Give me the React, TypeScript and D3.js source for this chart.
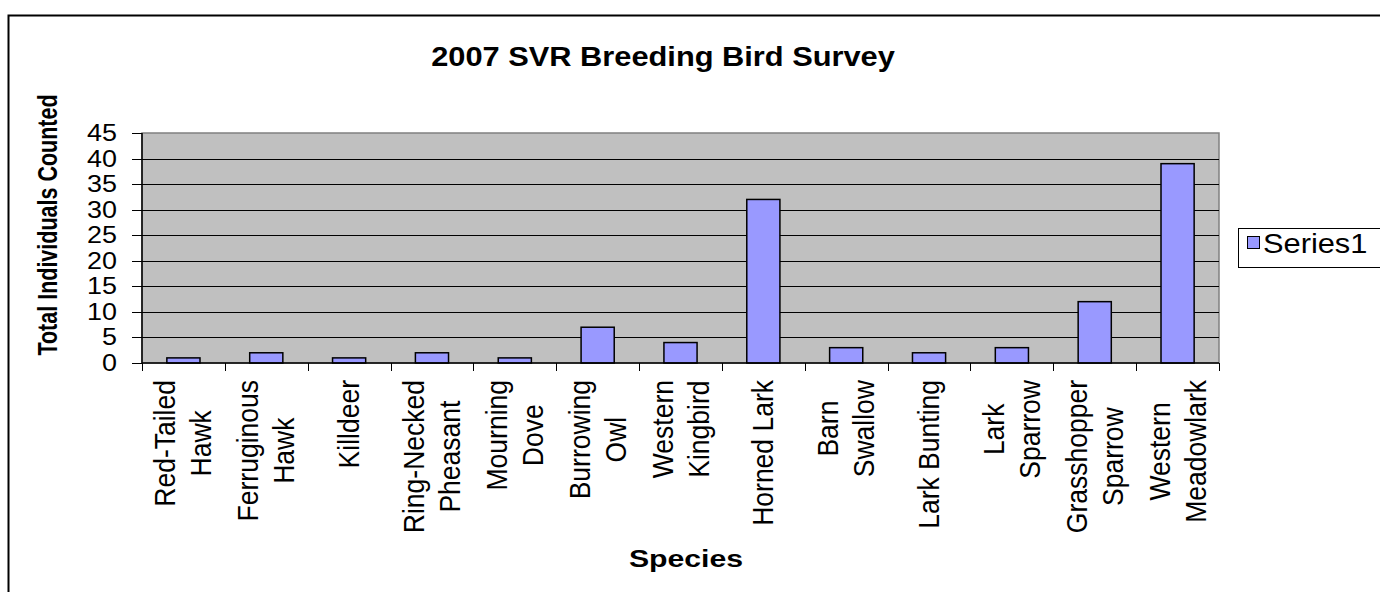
import { useEffect, useRef } from 'react';
import * as d3 from 'd3';

const chartTitle = '2007 SVR Breeding Bird Survey';
const xTitle = 'Species';
const yTitle = 'Total Individuals Counted';
const seriesName = 'Series1';

const categories = [
  'Red-Tailed Hawk',
  'Ferruginous Hawk',
  'Killdeer',
  'Ring-Necked Pheasant',
  'Mourning Dove',
  'Burrowing Owl',
  'Western Kingbird',
  'Horned Lark',
  'Barn Swallow',
  'Lark Bunting',
  'Lark Sparrow',
  'Grasshopper Sparrow',
  'Western Meadowlark',
];

// how the category labels wrap in the picture
const categoryLines = [
  ['Red-Tailed', 'Hawk'],
  ['Ferruginous', 'Hawk'],
  ['Killdeer'],
  ['Ring-Necked', 'Pheasant'],
  ['Mourning', 'Dove'],
  ['Burrowing', 'Owl'],
  ['Western', 'Kingbird'],
  ['Horned Lark'],
  ['Barn', 'Swallow'],
  ['Lark Bunting'],
  ['Lark', 'Sparrow'],
  ['Grasshopper', 'Sparrow'],
  ['Western', 'Meadowlark'],
];

const counts = [1, 2, 1, 2, 1, 7, 4, 32, 3, 2, 3, 12, 39];
const yTicks = [0, 5, 10, 15, 20, 25, 30, 35, 40, 45];

const FONT = '"Liberation Sans", Arial, sans-serif';

export default function App() {
  const svgRef = useRef<SVGSVGElement>(null);

  useEffect(() => {
    if (!svgRef.current) return;
    const svg = d3.select(svgRef.current);
    svg.selectAll('*').remove();

    const W = 1380;
    const H = 592;
    const plot = { left: 142, right: 1219, top: 133, bottom: 363 };

    // outer chart border (runs off the right and bottom edge)
    svg.append('rect')
      .attr('x', 8.5).attr('y', 15.5)
      .attr('width', W + 20).attr('height', H + 20)
      .attr('fill', '#fff')
      .attr('stroke', '#000')
      .attr('stroke-width', 2);

    const x = d3.scaleBand<string>()
      .domain(categories)
      .range([plot.left, plot.right])
      .paddingInner(0.6)
      .paddingOuter(0.3);
    const y = d3.scaleLinear().domain([0, 45]).range([plot.bottom, plot.top]);

    // plot area
    svg.append('rect')
      .attr('x', plot.left).attr('y', plot.top)
      .attr('width', plot.right - plot.left).attr('height', plot.bottom - plot.top)
      .attr('fill', '#c0c0c0')
      .attr('stroke', '#808080')
      .attr('stroke-width', 1.5);

    // grid lines
    svg.selectAll('.grid')
      .data(yTicks.filter((d) => d > 0 && d < 45))
      .enter()
      .append('line')
      .attr('x1', plot.left).attr('x2', plot.right)
      .attr('y1', (d) => Math.round(y(d)) + 0.5)
      .attr('y2', (d) => Math.round(y(d)) + 0.5)
      .attr('stroke', '#000')
      .attr('stroke-width', 1);

    // bars
    svg.selectAll('.bar')
      .data(counts)
      .enter()
      .append('rect')
      .attr('x', (d, i) => x(categories[i])!)
      .attr('y', (d) => y(d))
      .attr('width', x.bandwidth())
      .attr('height', (d) => y(0) - y(d))
      .attr('fill', '#9999ff')
      .attr('stroke', '#000')
      .attr('stroke-width', 1.5);

    // y axis
    svg.append('line')
      .attr('x1', plot.left).attr('x2', plot.left)
      .attr('y1', plot.top).attr('y2', plot.bottom)
      .attr('stroke', '#000').attr('stroke-width', 1.5);
    svg.selectAll('.ytick')
      .data(yTicks)
      .enter()
      .append('line')
      .attr('x1', plot.left - 10).attr('x2', plot.left)
      .attr('y1', (d) => Math.round(y(d)) + 0.5)
      .attr('y2', (d) => Math.round(y(d)) + 0.5)
      .attr('stroke', '#000');
    svg.selectAll('.ylab')
      .data(yTicks)
      .enter()
      .append('text')
      .attr('transform', (d) => `translate(117,${y(d) + 8}) scale(1.17,1)`)
      .attr('text-anchor', 'end')
      .attr('font-family', FONT)
      .attr('font-size', 23)
      .text((d) => d);

    // x axis
    svg.append('line')
      .attr('x1', plot.left).attr('x2', plot.right)
      .attr('y1', plot.bottom).attr('y2', plot.bottom)
      .attr('stroke', '#000').attr('stroke-width', 1.5);
    const step = x.step();
    const bounds = d3.range(categories.length + 1).map((i) => plot.left + i * step);
    svg.selectAll('.xtick')
      .data(bounds)
      .enter()
      .append('line')
      .attr('x1', (d) => Math.round(d) + 0.5).attr('x2', (d) => Math.round(d) + 0.5)
      .attr('y1', plot.bottom).attr('y2', plot.bottom + 8)
      .attr('stroke', '#000');

    // category labels, rotated, lines centred on each other
    const labelTop = 380;
    const lineGap = 18;
    categoryLines.forEach((lines, i) => {
      const cx = x(categories[i])! + x.bandwidth() / 2;
      const nodes = lines.map((line, j) => {
        const lx = cx + (lines.length === 1 ? 0 : (j === 0 ? -lineGap : lineGap));
        return svg.append('text')
          .attr('text-anchor', 'middle')
          .attr('dy', '0.35em')
          .attr('font-family', FONT)
          .attr('font-size', 26.5)
          .attr('data-x', lx)
          .text(line);
      });
      const maxLen = d3.max(nodes, (n) => (n.node() as SVGTextElement).getComputedTextLength()) || 0;
      nodes.forEach((n) => {
        n.attr('transform', `translate(${n.attr('data-x')},${labelTop + maxLen / 2}) scale(1.08,1) rotate(-90)`);
      });
    });

    // titles
    svg.append('text')
      .attr('transform', 'translate(663,66) scale(1.1,1)')
      .attr('text-anchor', 'middle')
      .attr('font-family', FONT)
      .attr('font-weight', 'bold')
      .attr('font-size', 28)
      .text(chartTitle);

    svg.append('text')
      .attr('transform', 'translate(686,567) scale(1.26,1)')
      .attr('text-anchor', 'middle')
      .attr('font-family', FONT)
      .attr('font-weight', 'bold')
      .attr('font-size', 24)
      .text(xTitle);

    svg.append('text')
      .attr('transform', 'translate(47,225) scale(1.28,1) rotate(-90)')
      .attr('text-anchor', 'middle')
      .attr('dy', '0.35em')
      .attr('font-family', FONT)
      .attr('font-weight', 'bold')
      .attr('font-size', 21.5)
      .text(yTitle);

    // legend
    const legend = svg.append('g');
    legend.append('rect')
      .attr('x', 1238.5).attr('y', 228.5)
      .attr('width', 160).attr('height', 39)
      .attr('fill', '#fff')
      .attr('stroke', '#000');
    legend.append('rect')
      .attr('x', 1247.5).attr('y', 236.5)
      .attr('width', 12).attr('height', 12)
      .attr('fill', '#9999ff')
      .attr('stroke', '#000');
    legend.append('text')
      .attr('transform', 'translate(1263,253) scale(1.1,1)')
      .attr('font-family', FONT)
      .attr('font-size', 28)
      .text(seriesName);
  }, []);

  return (
    <svg
      ref={svgRef}
      width={1380}
      height={592}
      style={{ position: 'absolute', left: 0, top: 0, display: 'block', background: '#fff' }}
    />
  );
}
